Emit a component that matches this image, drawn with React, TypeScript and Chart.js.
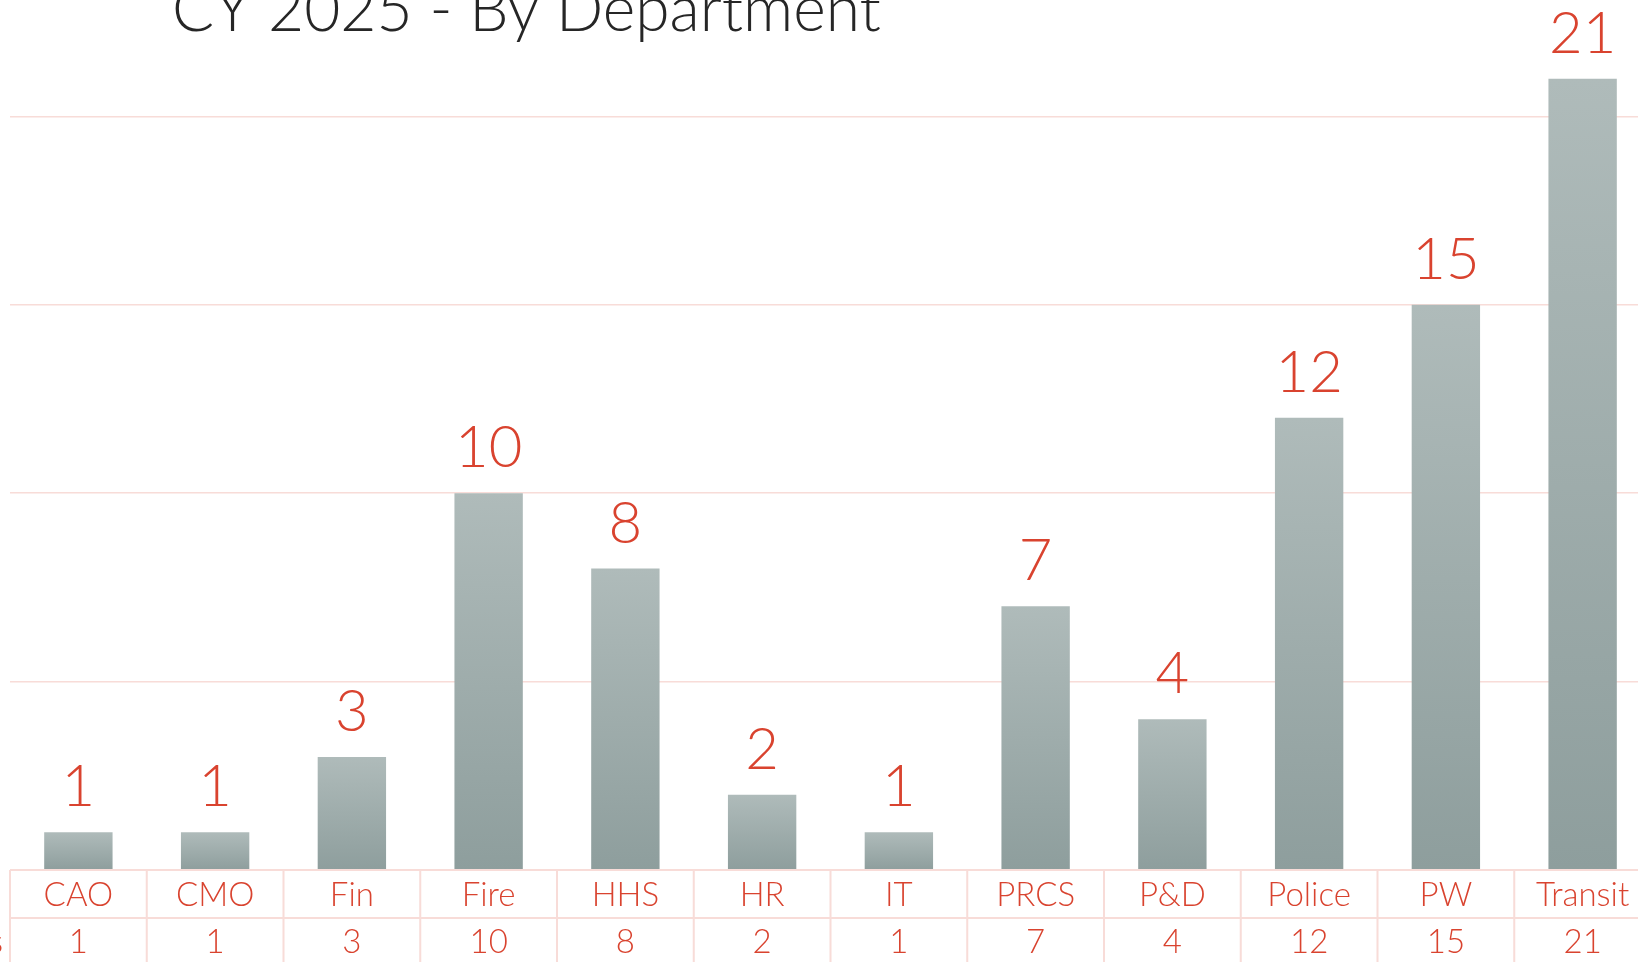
import React, { useEffect, useRef } from "react";
import { Chart, registerables } from "chart.js";

Chart.register(...registerables);

// ---- Data ----
const categories = ["CAO", "CMO", "Fin", "Fire", "HHS", "HR", "IT", "PRCS", "P&D", "Police", "PW", "Transit"];
const requestCounts = [1, 1, 3, 10, 8, 2, 1, 7, 4, 12, 15, 21];
const yMin = 0;
const yMax = 25;
const yStep = 5;
const titleText = "CY 2025 - By Department";
const rowHeader = "Requests";

// ---- Layout / style ----
const OX = 60; // canvas shifted left of the page (cropped view)
const OY = 100; // canvas shifted above the page (cropped view)
const CW = 1720;
const CH = 1102;
const RED = "#d9432f";
const PINK = "#f8dcd8";
const FONT = "Lato, 'Open Sans', sans-serif";
const W = "300";

const titlePlugin = {
  id: "titleText",
  afterDraw(chart: any) {
    const ctx = chart.ctx as CanvasRenderingContext2D;
    ctx.save();
    let size = 56;
    ctx.font = `${W} ${size}px ${FONT}`;
    const w = ctx.measureText(titleText).width;
    size = (size * 709) / w;
    ctx.font = `${W} ${size}px ${FONT}`;
    ctx.fillStyle = "#262626";
    ctx.textAlign = "left";
    ctx.textBaseline = "alphabetic";
    ctx.fillText(titleText, 172 + OX, 31 + OY);
    ctx.restore();
  },
};

const valueLabelPlugin = {
  id: "valueLabels",
  afterDatasetsDraw(chart: any) {
    const ctx = chart.ctx as CanvasRenderingContext2D;
    const meta = chart.getDatasetMeta(0);
    ctx.save();
    ctx.font = `${W} 58px ${FONT}`;
    ctx.fillStyle = RED;
    ctx.textAlign = "center";
    ctx.textBaseline = "alphabetic";
    meta.data.forEach((bar: any, i: number) => {
      ctx.fillText(String(requestCounts[i]), bar.x, bar.y - 26);
    });
    ctx.restore();
  },
};

const tablePlugin = {
  id: "dataTable",
  afterDraw(chart: any) {
    const ctx = chart.ctx as CanvasRenderingContext2D;
    const { left, right, bottom } = chart.chartArea;
    const n = categories.length;
    const colW = (right - left) / n;
    const rowH = 48;
    const top = bottom;
    ctx.save();
    ctx.strokeStyle = PINK;
    ctx.lineWidth = 2;
    ctx.beginPath();
    for (let r = 0; r <= 2; r++) {
      ctx.moveTo(left, top + r * rowH);
      ctx.lineTo(right, top + r * rowH);
    }
    for (let i = 0; i <= n; i++) {
      const x = left + i * colW;
      ctx.moveTo(x, top);
      ctx.lineTo(x, top + 2 * rowH + 10);
    }
    ctx.stroke();

    ctx.fillStyle = RED;
    ctx.font = `${W} 33px ${FONT}`;
    ctx.textAlign = "center";
    ctx.textBaseline = "alphabetic";
    const xs = chart.scales.x;
    categories.forEach((c, i) => {
      const x = xs.getPixelForValue(i);
      ctx.fillText(c, x, top + 36);
      ctx.fillText(String(requestCounts[i]), x, top + 83);
    });
    ctx.textAlign = "right";
    ctx.fillText(rowHeader, left - 7, top + 83);
    ctx.restore();
  },
};

export default function App() {
  const ref = useRef<HTMLCanvasElement | null>(null);

  useEffect(() => {
    if (!ref.current) return;
    const chart = new Chart(ref.current, {
      type: "bar",
      data: {
        labels: categories,
        datasets: [
          {
            data: requestCounts,
            backgroundColor: (ctx: any) => {
              const chart = ctx.chart;
              if (!chart.chartArea || ctx.type !== "data") return "#a0aeae";
              const y = chart.scales.y;
              const t = y.getPixelForValue(ctx.raw);
              const b = y.getPixelForValue(0);
              const g = chart.ctx.createLinearGradient(0, t, 0, b);
              g.addColorStop(0, "#afbbba");
              g.addColorStop(1, "#8e9e9d");
              return g;
            },
            borderWidth: 0,
            barPercentage: 0.5,
            categoryPercentage: 1,
          },
        ],
      },
      options: {
        responsive: false,
        animation: false,
        devicePixelRatio: 1,
        layout: { padding: { left: 70, right: 9, top: 28, bottom: 132 } },
        plugins: {
          legend: { display: false },
          title: { display: false },
          tooltip: { enabled: false },
        },
        scales: {
          x: { display: false, offset: true },
          y: {
            display: true,
            min: yMin,
            max: yMax,
            ticks: { display: false, stepSize: yStep },
            border: { display: false },
            grid: {
              drawTicks: false,
              lineWidth: 1.5,
              color: (c: any) => (c.tick && c.tick.value === 0 ? "rgba(0,0,0,0)" : PINK),
            },
          },
        },
      },
      plugins: [valueLabelPlugin, tablePlugin, titlePlugin],
    });
    return () => chart.destroy();
  }, []);

  return (
    <div
      style={{
        position: "fixed",
        left: 0,
        top: 0,
        width: 1638,
        height: 962,
        overflow: "hidden",
        background: "#ffffff",
      }}
    >
      <canvas
        ref={ref}
        width={CW}
        height={CH}
        style={{ position: "absolute", left: -OX, top: -OY, width: CW, height: CH }}
      />
    </div>
  );
}
